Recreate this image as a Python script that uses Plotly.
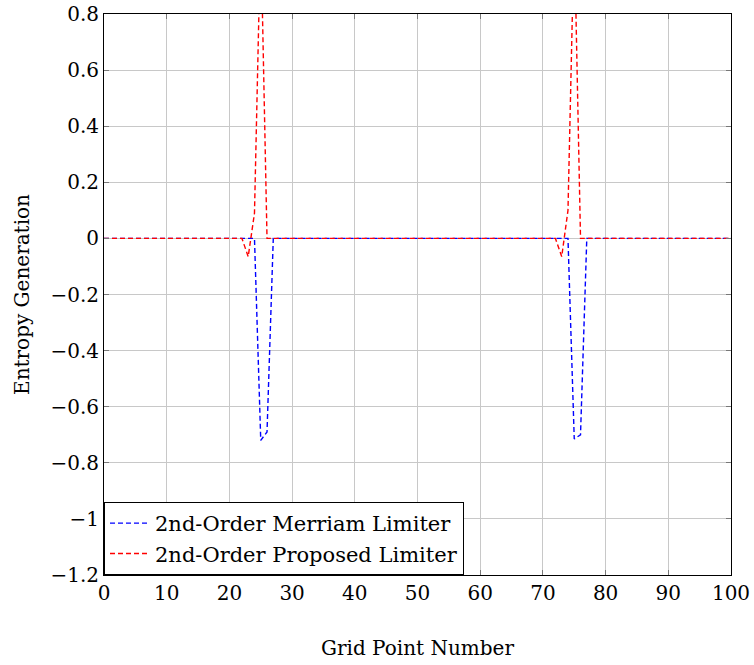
import plotly.graph_objects as go

grid_points = list(range(0, 101))

merriam = [0.0] * 101
merriam[25] = -0.72
merriam[26] = -0.69
merriam[75] = -0.715
merriam[76] = -0.70

proposed = [0.0] * 101
proposed[23] = -0.065
proposed[24] = 0.09
proposed[25] = 1.1
proposed[73] = -0.065
proposed[74] = 0.10
proposed[75] = 1.1

x_ticks = list(range(0, 101, 10))
y_ticks = [0.8, 0.6, 0.4, 0.2, 0, -0.2, -0.4, -0.6, -0.8, -1, -1.2]

FONT = "DejaVu Serif"
FS = 20

fig = go.Figure()
fig.add_trace(go.Scatter(
    x=grid_points, y=merriam, mode="lines",
    name="2nd-Order Merriam Limiter",
    line=dict(color="rgb(0,0,255)", width=1.4, dash="5px,3px"),
))
fig.add_trace(go.Scatter(
    x=grid_points, y=proposed, mode="lines",
    name="2nd-Order Proposed Limiter",
    line=dict(color="rgb(255,0,0)", width=1.4, dash="5px,3px"),
))

axis_common = dict(
    showgrid=True, gridcolor="rgb(200,200,200)", gridwidth=1,
    showline=True, linecolor="black", linewidth=1, mirror="ticks",
    ticks="inside", ticklen=5, tickcolor="rgb(120,120,120)",
    zeroline=False, automargin=False,
    tickfont=dict(family=FONT, size=FS, color="black"),
)

fig.update_layout(
    width=754, height=665,
    margin=dict(l=104, r=23, t=14, b=90),
    paper_bgcolor="white", plot_bgcolor="white",
    font=dict(family=FONT, size=FS, color="black"),
    xaxis=dict(
        range=[0, 100], tickvals=x_ticks,
        title=dict(text="Grid Point Number", font=dict(family=FONT, size=FS), standoff=36),
        **axis_common,
    ),
    yaxis=dict(
        range=[-1.2, 0.8], tickvals=y_ticks,
        title=dict(text="Entropy Generation", font=dict(family=FONT, size=FS), standoff=15),
        **axis_common,
    ),
    legend=dict(
        x=0, y=0, xanchor="left", yanchor="bottom",
        bgcolor="white", bordercolor="black", borderwidth=1,
        font=dict(family=FONT, size=21),
        itemwidth=40,
        tracegroupgap=0,
    ),
    showlegend=True,
)

fig.write_html("out.html")
